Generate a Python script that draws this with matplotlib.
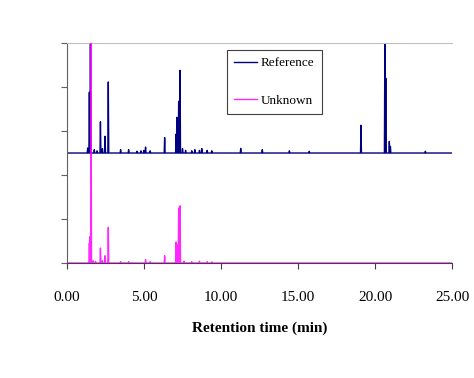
import matplotlib
matplotlib.use('Agg')
import matplotlib.pyplot as plt
import numpy as np

# ── Peak tables (time in min, height in axis units) ──
REF_TIMES   = [1.34, 1.45, 1.52, 1.77, 1.95, 2.17, 2.30, 2.47, 2.68, 3.48, 4.00,
               4.55, 4.80, 5.00, 5.10, 5.40, 6.34, 7.08, 7.14, 7.25, 7.34, 7.50,
               7.70, 8.10, 8.30, 8.60, 8.75, 9.10, 9.40, 11.28, 12.68, 14.44,
               15.73, 19.09, 20.64, 20.70, 20.93, 21.00, 23.27]
REF_HEIGHTS = [0.23, 2.76, 5.50, 0.15, 0.10, 1.42, 0.20, 0.76, 3.23, 0.15, 0.15,
               0.08, 0.10, 0.12, 0.27, 0.10, 0.70, 0.86, 1.62, 2.35, 3.76, 0.20,
               0.12, 0.10, 0.15, 0.12, 0.20, 0.12, 0.10, 0.21, 0.15, 0.10,
               0.08, 1.26, 5.20, 3.40, 0.53, 0.30, 0.08]

UNK_TIMES   = [1.45, 1.50, 1.56, 1.70, 1.85, 2.17, 2.30, 2.47, 2.68, 3.48, 4.00,
               5.10, 5.40, 6.34, 7.08, 7.14, 7.25, 7.34, 7.60, 8.10, 8.60, 9.10, 9.40]
UNK_HEIGHTS = [0.90, 1.20, 11.0, 0.10, 0.07, 0.68, 0.10, 0.33, 1.62, 0.06, 0.06,
               0.15, 0.06, 0.33, 0.95, 0.83, 2.50, 2.60, 0.08, 0.06, 0.08, 0.06, 0.05]

REF_BASE = 5.0      # reference trace is offset above the unknown
X_TICKS  = [0, 5, 10, 15, 20, 25]
X_LABELS = ['0.00', '5.00', '10.00', '15.00', '20.00', '25.00']
Y_TICKS  = [0, 2, 4, 6, 8, 10]


def trace(times, heights, base, half_w=0.03, t_end=25.0):
    xs, ys = [0.0], [base]
    for t, h in sorted(zip(times, heights)):
        xs += [t - half_w, t, t + half_w]
        ys += [base, base + h, base]
    xs.append(t_end)
    ys.append(base)
    return np.array(xs), np.array(ys)


plt.rcParams['font.family'] = ['Liberation Serif', 'DejaVu Serif']

fig = plt.figure(figsize=(4.74, 3.78), dpi=100)
ax = fig.add_axes([0.1414, 0.3042, 0.8122, 0.5820])

rx, ry = trace(REF_TIMES, REF_HEIGHTS, REF_BASE)
ux, uy = trace(UNK_TIMES, UNK_HEIGHTS, 0.0)
ax.plot(rx, ry, color='#000080', linewidth=1.0, label='Reference', zorder=2)
ax.plot(ux, uy, color='#FF00FF', linewidth=1.0, alpha=0.85, label='Unknown', zorder=3)

ax.set_xlim(0, 25)
ax.set_ylim(0, 10)
ax.set_xticks(X_TICKS)
ax.set_xticklabels(X_LABELS, fontsize=11)
ax.set_yticks(Y_TICKS)
ax.set_yticklabels([])
ax.tick_params(axis='x', direction='out', length=4, width=0.8, pad=16, colors='#404040',
               labelcolor='black')
ax.tick_params(axis='y', direction='out', length=4, width=0.8, colors='#606060')

ax.spines['right'].set_visible(False)
ax.spines['top'].set_color('#C0C0C0')
ax.spines['left'].set_color('#606060')
ax.spines['bottom'].set_color('#404040')

ax.set_xlabel('Retention time (min)', fontsize=11, fontweight='bold', labelpad=13)

leg = ax.legend(loc='upper left',
                bbox_to_anchor=(227 / 474, 1 - 50 / 378), bbox_transform=fig.transFigure,
                fontsize=9.5, frameon=True, fancybox=False, framealpha=1,
                edgecolor='#404040', labelspacing=1.9, handlelength=1.7,
                handletextpad=0.3, borderpad=0.55, borderaxespad=0)
leg.get_frame().set_linewidth(0.8)

fig.savefig('out.png', dpi=100)
